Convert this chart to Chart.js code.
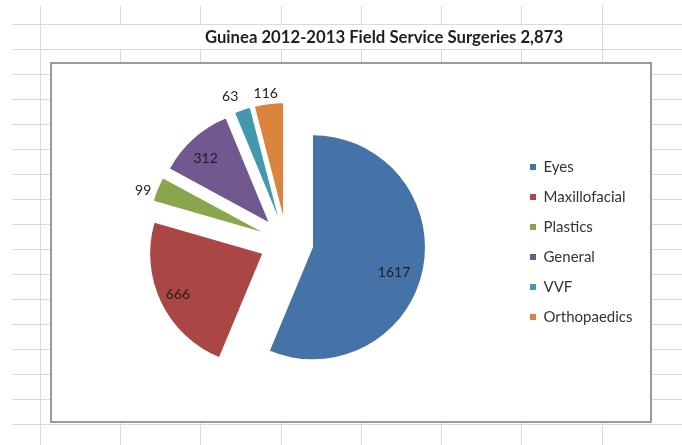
<!DOCTYPE html>
<html>
<head>
<meta charset="utf-8">
<script src="https://cdn.jsdelivr.net/npm/chart.js@4.4.1/dist/chart.umd.min.js"></script>
<style>
  html, body { margin: 0; padding: 0; background: #ffffff; }
  #wrap { position: relative; width: 682px; height: 445px; overflow: hidden; }
  #c { position: absolute; left: 0; top: 0; }
</style>
</head>
<body>
<div id="wrap"><canvas id="c" width="682" height="445"></canvas></div>
<script>
// ---- data ----
const categories = ['Eyes', 'Maxillofacial', 'Plastics', 'General', 'VVF', 'Orthopaedics'];
const surgeries = [1617, 666, 99, 312, 63, 116];
const titleText = 'Guinea 2012-2013 Field Service Surgeries 2,873';

// ---- styles ----
const sliceColors = ['#4572A7', '#AA4643', '#89A54E', '#71588F', '#4198AF', '#DB843D'];
const EXPLODE = 27;
// label placement: distance (fraction of radius) and angle shift (deg) from slice middle
const labelDistance = [0.757, 0.837, 1.12, 0.80, 1.15, 1.10];
const labelAngleShift = [5.8, -0.4, -2.9, -2.5, -3.3, -0.8];
const LEGEND_SLOT = 195;

// spreadsheet background (decoration only)
const sheetGrid = {
  id: 'sheetGrid',
  beforeDraw(chart) {
    const ctx = chart.ctx;
    const W = chart.width, H = chart.height;
    ctx.save();
    ctx.fillStyle = '#ffffff';
    ctx.fillRect(0, 0, W, H);
    ctx.strokeStyle = '#dadada';
    ctx.lineWidth = 1;
    const seg = (x1, y1, x2, y2) => { ctx.beginPath(); ctx.moveTo(x1, y1); ctx.lineTo(x2, y2); ctx.stroke(); };
    for (let y = 24; y <= H; y += 25) seg(12, y + 0.5, W, y + 0.5);
    const cols = [40, 120, 200, 281, 361, 441, 521, 602];
    cols.forEach(x => {
      if (x > 40 && x < 602) { seg(x + 0.5, 6, x + 0.5, 24); seg(x + 0.5, 50, x + 0.5, H); }
      else seg(x + 0.5, 6, x + 0.5, H);
    });
    // chart frame
    ctx.fillStyle = '#ffffff';
    ctx.fillRect(50, 62, 602, 361);
    ctx.strokeStyle = '#9a9a9a';
    ctx.lineWidth = 2;
    ctx.strokeRect(51, 63, 600, 359);
    ctx.restore();
  }
};

// empty layout box to the right of the legend (keeps the title centred like the original)
const legendSpacer = {
  id: 'legendSpacer',
  start(chart) {
    const box = {
      position: 'right',
      weight: 2000,
      fullSize: false,
      options: {},
      width: 0,
      height: 0,
      isHorizontal() { return false; },
      update(maxWidth, maxHeight) {
        const lw = chart.legend ? chart.legend.width : 0;
        this.width = Math.max(0, LEGEND_SLOT - lw);
        this.height = maxHeight;
      },
      draw() {}
    };
    Chart.layouts.addBox(chart, box);
  }
};

// draw each slice pulled out along its mid angle (exploded pie)
const explode = {
  id: 'explode',
  beforeDatasetDraw(chart, args, opts) {
    const ctx = chart.ctx;
    args.meta.data.forEach(arc => {
      const { startAngle, endAngle } = arc.getProps(['startAngle', 'endAngle']);
      const mid = (startAngle + endAngle) / 2;
      ctx.save();
      ctx.translate(Math.cos(mid) * opts.distance, Math.sin(mid) * opts.distance);
      arc.draw(ctx);
      ctx.restore();
    });
    return false;
  }
};

// value labels
const sliceLabels = {
  id: 'sliceLabels',
  afterDatasetsDraw(chart, args, opts) {
    const ctx = chart.ctx;
    const meta = chart.getDatasetMeta(0);
    const values = chart.data.datasets[0].data;
    ctx.save();
    ctx.font = opts.font;
    ctx.fillStyle = opts.color;
    ctx.textAlign = 'center';
    ctx.textBaseline = 'middle';
    meta.data.forEach((arc, i) => {
      const { x, y, startAngle, endAngle, outerRadius } = arc.getProps(['x', 'y', 'startAngle', 'endAngle', 'outerRadius']);
      const mid = (startAngle + endAngle) / 2;
      const ax = x + Math.cos(mid) * opts.explode;
      const ay = y + Math.sin(mid) * opts.explode;
      const a = mid + opts.angleShift[i] * Math.PI / 180;
      const d = opts.distance[i] * outerRadius;
      ctx.fillText(String(values[i]), ax + Math.cos(a) * d, ay + Math.sin(a) * d);
    });
    ctx.restore();
  }
};

new Chart(document.getElementById('c'), {
  type: 'pie',
  data: {
    labels: categories,
    datasets: [{
      data: surgeries,
      backgroundColor: sliceColors,
      borderWidth: 0,
      radius: 112
    }]
  },
  options: {
    responsive: false,
    animation: false,
    events: [],
    radius: 112,
    layout: { padding: { left: 58, right: -28, top: 27.5, bottom: 8.5 } },
    plugins: {
      title: {
        display: true,
        text: titleText,
        align: 'center',
        color: '#1f1f1f',
        padding: 0,
        font: { family: 'Lato', size: 16.7, weight: 'bold' }
      },
      legend: {
        position: 'right',
        fullSize: false,
        labels: {
          boxWidth: 6,
          boxHeight: 6,
          padding: 15,
          color: '#333333',
          font: { family: 'Lato', size: 15 }
        }
      },
      tooltip: { enabled: false },
      explode: { distance: EXPLODE },
      sliceLabels: {
        explode: EXPLODE,
        distance: labelDistance,
        angleShift: labelAngleShift,
        color: '#222222',
        font: '14px Lato'
      }
    }
  },
  plugins: [sheetGrid, legendSpacer, explode, sliceLabels]
});
</script>
</body>
</html>
